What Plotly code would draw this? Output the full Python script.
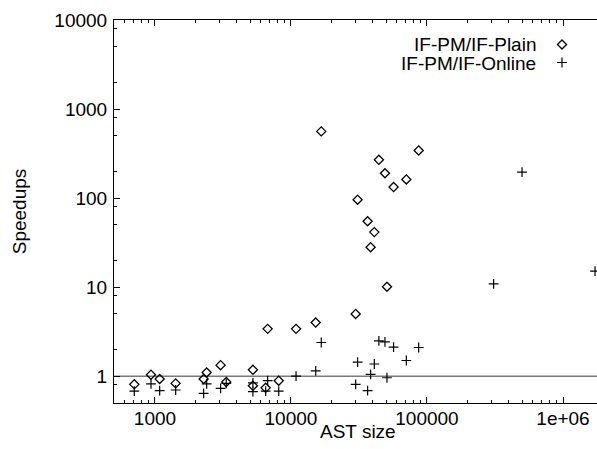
import plotly.graph_objects as go

# --- data ---
plain_ast = [705, 935, 1083, 1420, 2280, 2400, 3040, 3345, 5250, 5250, 6515, 6740, 8130,
             10900, 15200, 16700, 29900, 30900, 36600, 38500, 41000, 44300, 49100, 50800,
             56800, 70500, 86900]
plain_speedup = [0.81, 1.04, 0.93, 0.83, 0.93, 1.10, 1.33, 0.86, 1.18, 0.78, 0.74, 3.4, 0.89,
                 3.4, 4.0, 561, 5.0, 96, 55, 28.1, 41.5, 269, 190, 10.1,
                 133, 162, 343]

online_ast = [705, 935, 1083, 1420, 2280, 2400, 3040, 3345, 5250, 5250, 6515, 6740, 8130,
              10900, 15200, 16700, 29900, 30900, 36600, 38500, 41000, 44300, 49100, 50800,
              56800, 70500, 86900, 309000, 500000, 1720000]
online_speedup = [0.68, 0.82, 0.69, 0.70, 0.64, 0.82, 0.73, 0.83, 0.84, 0.67, 0.68, 0.89, 0.68,
                  1.0, 1.15, 2.39, 0.81, 1.44, 0.69, 1.05, 1.37, 2.49, 2.43, 0.96,
                  2.12, 1.50, 2.10, 10.9, 196, 15.1]

series_names = ["IF-PM/IF-Plain", "IF-PM/IF-Online"]
baseline = 1

x_tickvals = [1e3, 1e4, 1e5, 1e6]
x_ticktext = ["1000", "10000", "100000", "1e+06"]
y_tickvals = [1, 10, 100, 1000, 10000]
y_ticktext = ["1", "10", "100", "1000", "10000"]

FONT = "Liberation Sans, Arial, Helvetica, sans-serif"
FS = 19

fig = go.Figure()
fig.add_trace(go.Scatter(
    x=plain_ast, y=plain_speedup, mode="markers", name="", legend="legend",
    marker=dict(symbol="diamond-open", size=7, color="black", line=dict(width=1.3, color="black")),
    showlegend=True,
))
fig.add_trace(go.Scatter(
    x=online_ast, y=online_speedup, mode="markers", name="", legend="legend2",
    marker=dict(symbol="cross-thin-open", size=7, color="black", line=dict(width=1.2, color="black")),
    showlegend=True,
))

fig.add_shape(type="line", xref="paper", yref="y", x0=0, x1=1, y0=baseline, y1=baseline,
              line=dict(color="#7a7a7a", width=1.6), layer="below")

x_minor = [m * 10 ** e for e in range(2, 7) for m in range(2, 10)]
y_minor = [m * 10 ** e for e in range(-1, 4) for m in (2, 5, 8)]

fig.update_xaxes(
    type="log", range=[2.69897, 6.25], showgrid=False, zeroline=False,
    showline=True, linecolor="black", linewidth=1, mirror="ticks",
    tickmode="array", tickvals=x_tickvals, ticktext=x_ticktext,
    ticks="inside", ticklen=6, tickcolor="black", tickwidth=1,
    minor=dict(tickmode="array", tickvals=x_minor, ticks="inside", ticklen=3,
               tickcolor="black", tickwidth=1, showgrid=False),
    tickfont=dict(family=FONT, size=FS, color="black"),
    ticklabelstandoff=-2,
)
fig.update_yaxes(
    type="log", range=[-0.30103, 4], showgrid=False, zeroline=False,
    showline=True, linecolor="black", linewidth=1, mirror=False,
    tickmode="array", tickvals=y_tickvals, ticktext=y_ticktext,
    ticks="inside", ticklen=6, tickcolor="black", tickwidth=1,
    minor=dict(tickmode="array", tickvals=y_minor, ticks="inside", ticklen=3,
               tickcolor="black", tickwidth=1, showgrid=False),
    tickfont=dict(family=FONT, size=FS, color="black"),
    ticklabelstandoff=2,
    title=dict(text="Speedups", font=dict(family=FONT, size=FS, color="black"), standoff=22),
)

# x axis title
fig.add_annotation(text="AST size", xref="paper", yref="paper", x=0.505, y=-0.0757,
                   xanchor="center", yanchor="middle", showarrow=False,
                   font=dict(family=FONT, size=FS, color="black"))

# legend text (gnuplot style: text right-aligned, symbol on the right)
fig.add_annotation(text=series_names[0], xref="paper", yref="paper", x=0.878, y=0.937,
                   xanchor="right", yanchor="middle", showarrow=False, height=18,
                   font=dict(family=FONT, size=FS, color="black"))
fig.add_annotation(text=series_names[1], xref="paper", yref="paper", x=0.878, y=0.889,
                   xanchor="right", yanchor="middle", showarrow=False, height=18,
                   font=dict(family=FONT, size=FS, color="black"))

leg_common = dict(xref="container", yref="container", xanchor="left", yanchor="top",
                  bgcolor="rgba(0,0,0,0)", font=dict(size=12), itemwidth=30)
fig.update_layout(
    width=597, height=449,
    margin=dict(l=114, r=0, t=20, b=46, autoexpand=False),
    paper_bgcolor="white", plot_bgcolor="white",
    font=dict(family=FONT, size=FS, color="black"),
    legend=dict(x=542 / 597, y=1 - 30 / 449, **leg_common),
    legend2=dict(x=542 / 597, y=1 - 48 / 449, **leg_common),
)

fig.write_html("out.html", config={"displayModeBar": False},
               post_script="document.body.style.margin='0';")
